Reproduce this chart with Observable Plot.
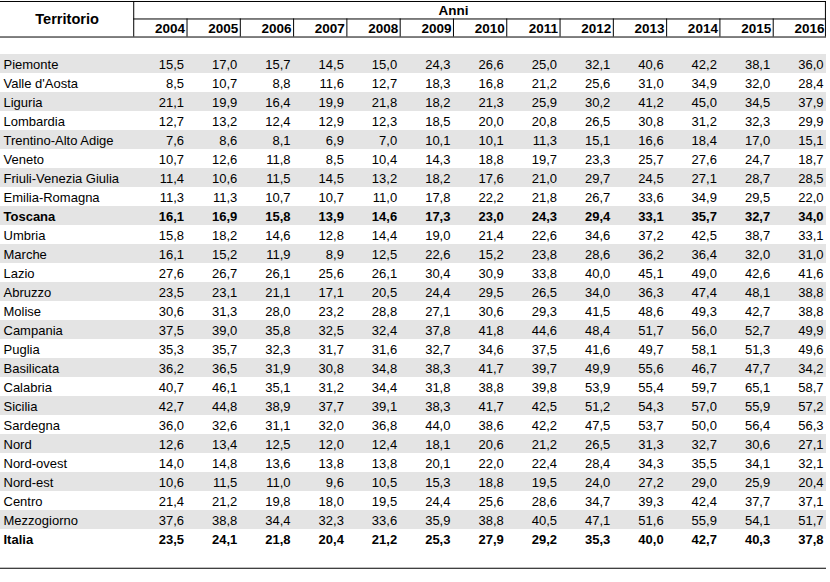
<!DOCTYPE html>
<html>
<head>
<meta charset="utf-8">
<script src="https://cdn.jsdelivr.net/npm/d3@7"></script>
<script src="https://cdn.jsdelivr.net/npm/@observablehq/plot@0.6"></script>
<style>
  html, body { margin: 0; padding: 0; background: #fff; }
  svg { display: block; }
</style>
</head>
<body>
<div id="chart"></div>
<script>
const years = ["2004","2005","2006","2007","2008","2009","2010","2011","2012","2013","2014","2015","2016"];

const territories = [
  "Piemonte","Valle d'Aosta","Liguria","Lombardia","Trentino-Alto Adige","Veneto",
  "Friuli-Venezia Giulia","Emilia-Romagna","Toscana","Umbria","Marche","Lazio",
  "Abruzzo","Molise","Campania","Puglia","Basilicata","Calabria","Sicilia","Sardegna",
  "Nord","Nord-ovest","Nord-est","Centro","Mezzogiorno","Italia"
];

const boldRows = ["Toscana", "Italia"];

const values = [
  [15.5,17.0,15.7,14.5,15.0,24.3,26.6,25.0,32.1,40.6,42.2,38.1,36.0],
  [8.5,10.7,8.8,11.6,12.7,18.3,16.8,21.2,25.6,31.0,34.9,32.0,28.4],
  [21.1,19.9,16.4,19.9,21.8,18.2,21.3,25.9,30.2,41.2,45.0,34.5,37.9],
  [12.7,13.2,12.4,12.9,12.3,18.5,20.0,20.8,26.5,30.8,31.2,32.3,29.9],
  [7.6,8.6,8.1,6.9,7.0,10.1,10.1,11.3,15.1,16.6,18.4,17.0,15.1],
  [10.7,12.6,11.8,8.5,10.4,14.3,18.8,19.7,23.3,25.7,27.6,24.7,18.7],
  [11.4,10.6,11.5,14.5,13.2,18.2,17.6,21.0,29.7,24.5,27.1,28.7,28.5],
  [11.3,11.3,10.7,10.7,11.0,17.8,22.2,21.8,26.7,33.6,34.9,29.5,22.0],
  [16.1,16.9,15.8,13.9,14.6,17.3,23.0,24.3,29.4,33.1,35.7,32.7,34.0],
  [15.8,18.2,14.6,12.8,14.4,19.0,21.4,22.6,34.6,37.2,42.5,38.7,33.1],
  [16.1,15.2,11.9,8.9,12.5,22.6,15.2,23.8,28.6,36.2,36.4,32.0,31.0],
  [27.6,26.7,26.1,25.6,26.1,30.4,30.9,33.8,40.0,45.1,49.0,42.6,41.6],
  [23.5,23.1,21.1,17.1,20.5,24.4,29.5,26.5,34.0,36.3,47.4,48.1,38.8],
  [30.6,31.3,28.0,23.2,28.8,27.1,30.6,29.3,41.5,48.6,49.3,42.7,38.8],
  [37.5,39.0,35.8,32.5,32.4,37.8,41.8,44.6,48.4,51.7,56.0,52.7,49.9],
  [35.3,35.7,32.3,31.7,31.6,32.7,34.6,37.5,41.6,49.7,58.1,51.3,49.6],
  [36.2,36.5,31.9,30.8,34.8,38.3,41.7,39.7,49.9,55.6,46.7,47.7,34.2],
  [40.7,46.1,35.1,31.2,34.4,31.8,38.8,39.8,53.9,55.4,59.7,65.1,58.7],
  [42.7,44.8,38.9,37.7,39.1,38.3,41.7,42.5,51.2,54.3,57.0,55.9,57.2],
  [36.0,32.6,31.1,32.0,36.8,44.0,38.6,42.2,47.5,53.7,50.0,56.4,56.3],
  [12.6,13.4,12.5,12.0,12.4,18.1,20.6,21.2,26.5,31.3,32.7,30.6,27.1],
  [14.0,14.8,13.6,13.8,13.8,20.1,22.0,22.4,28.4,34.3,35.5,34.1,32.1],
  [10.6,11.5,11.0,9.6,10.5,15.3,18.8,19.5,24.0,27.2,29.0,25.9,20.4],
  [21.4,21.2,19.8,18.0,19.5,24.4,25.6,28.6,34.7,39.3,42.4,37.7,37.1],
  [37.6,38.8,34.4,32.3,33.6,35.9,38.8,40.5,47.1,51.6,55.9,54.1,51.7],
  [23.5,24.1,21.8,20.4,21.2,25.3,27.9,29.2,35.3,40.0,42.7,40.3,37.8]
];

// ---- layout in table units (x: year columns, y: rows) ----
const xLeft = -2.5, xRight = years.length;
const yTop = -2.79, yAnniLine = -1.87, yHeadBottom = -0.92, yBottomLine = 27.04;
const yAnniMid = -2.33, yYearMid = -1.395, yTerrMid = -1.855;

const fmt = v => v.toFixed(1).replace(".", ",");
const rows = territories.map((t, i) => ({t, i, bold: boldRows.includes(t)}));
const cells = [];
territories.forEach((t, i) => years.forEach((y, j) => cells.push({t, i, j, v: values[i][j], bold: boldRows.includes(t)})));

const font = "'Liberation Sans', Arial, sans-serif";

const chart = Plot.plot({
  width: 830,
  height: 582,
  margin: 0,
  x: {type: "linear", domain: [xLeft, xRight], range: [0, 826], axis: null},
  y: {type: "linear", domain: [-54 / 19, (582 - 54) / 19], range: [0, 582], axis: null},
  style: {fontFamily: font, background: "#fff", color: "#000"},
  marks: [
    // banded rows
    Plot.rect(rows.filter(r => r.i % 2 === 0), {
      x1: () => xLeft, x2: () => xRight, y1: d => d.i, y2: d => d.i + 1,
      fill: "#e4e4e4", inset: 0
    }),
    // header borders
    Plot.ruleY([yTop, yHeadBottom], {x1: () => xLeft, x2: () => xRight, stroke: "#000", strokeWidth: 1}),
    Plot.ruleY([yAnniLine], {x1: () => 0, x2: () => xRight, stroke: "#000", strokeWidth: 1}),
    Plot.ruleX([0, xRight - 0.02], {y1: () => yTop, y2: () => yHeadBottom, stroke: "#000", strokeWidth: 1}),
    Plot.ruleX(years.slice(0, -1).map((d, j) => j + 1), {y1: () => yAnniLine, y2: () => yHeadBottom, stroke: "#000", strokeWidth: 1}),
    // bottom line
    Plot.ruleY([yBottomLine], {x1: () => xLeft, x2: () => xRight, stroke: "#000", strokeWidth: 1.2}),
    // header texts
    Plot.text(["Territorio"], {x: () => (xLeft + 0) / 2, y: () => yTerrMid, text: d => d, fontWeight: "bold", fontSize: 14.6, fill: "#000", dy: 0.5}),
    Plot.text(["Anni"], {x: () => 6, y: () => yAnniMid, text: d => d, fontWeight: "bold", fontSize: 13.5, fill: "#000", dy: 0.5}),
    Plot.text(years, {x: (d, j) => j + 1, y: () => yYearMid, text: d => d, textAnchor: "end", dx: -2, dy: 0.5, fontWeight: "bold", fontSize: 13.5, fill: "#000"}),
    // territory names
    Plot.text(rows.filter(r => !r.bold), {x: () => xLeft, y: d => d.i + 0.5, text: "t", textAnchor: "start", dx: 3, dy: 1, fontSize: 13, fill: "#000"}),
    Plot.text(rows.filter(r => r.bold), {x: () => xLeft, y: d => d.i + 0.5, text: "t", textAnchor: "start", dx: 3, dy: 1, fontSize: 13, fontWeight: "bold", fill: "#000"}),
    // values
    Plot.text(cells.filter(c => !c.bold), {x: d => d.j + 1, y: d => d.i + 0.5, text: d => fmt(d.v), textAnchor: "end", dx: -3, dy: 1, fontSize: 13, fill: "#000"}),
    Plot.text(cells.filter(c => c.bold), {x: d => d.j + 1, y: d => d.i + 0.5, text: d => fmt(d.v), textAnchor: "end", dx: -3, dy: 1, fontSize: 13, fontWeight: "bold", fill: "#000"})
  ]
});
document.getElementById("chart").appendChild(chart);
</script>
</body>
</html>
